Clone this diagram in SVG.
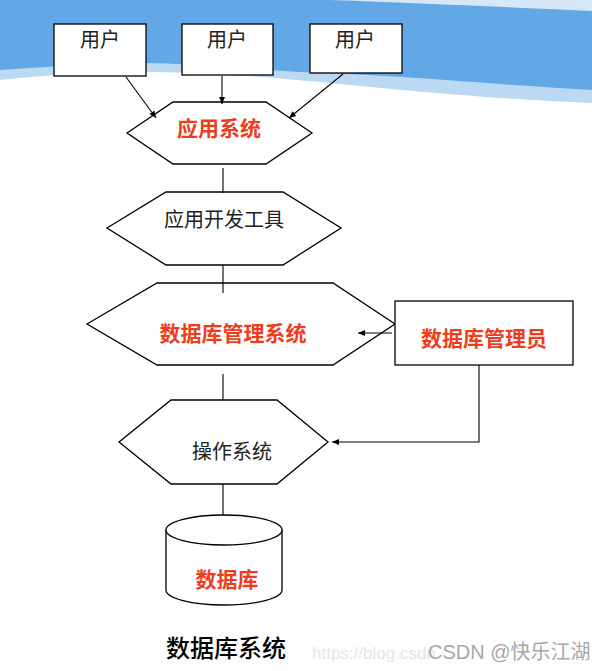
<svg xmlns="http://www.w3.org/2000/svg" width="592" height="671" viewBox="0 0 592 671">
<style>
.shape{fill:#fff;stroke:#000;stroke-width:1.3}
.line{fill:none;stroke:#000;stroke-width:1.1}
.t{font-family:"Noto Sans CJK SC","Noto Sans",sans-serif;text-anchor:middle;dominant-baseline:central}
.blk{fill:#222;font-size:20px}
.red{fill:#ee3d1d;font-weight:bold;font-size:21px}
</style>
<defs>
<marker id="ah" markerWidth="8" markerHeight="8" refX="7" refY="4" orient="auto" markerUnits="userSpaceOnUse">
<path d="M0,1 L7,4 L0,7 Z" fill="#000"/>
</marker>
</defs>
<rect width="592" height="671" fill="#fff"/>
<g id="background">
<path d="M0,0 H592 V103 C520,100 450,95 350,85 C300,80 230,73 150,72 C100,71 40,76 0,80 Z" fill="#bcd9f3"/>
<path d="M0,0 H592 V90 C500,85 400,75 300,72 C230,68 180,62 130,63 C80,64 30,68 0,70 Z" fill="#63a8e6"/>
<path d="M330,0 C420,3 500,7 592,11 V0 Z" fill="#d6e7f7"/>
</g>
<g id="user1">
<rect class="shape" x="54" y="24" width="92" height="52"/>
<text class="t blk" x="100" y="38">用户</text>
</g>
<g id="user2">
<rect class="shape" x="182" y="24" width="91" height="51"/>
<text class="t blk" x="227" y="38">用户</text>
</g>
<g id="user3">
<rect class="shape" x="310" y="24" width="92" height="49"/>
<text class="t blk" x="355" y="38">用户</text>
</g>
<g id="app-system">
<polygon class="shape" points="127,133 173,102 266,102 312,133 266,164 173,164"/>
<text class="t red" x="219" y="127">应用系统</text>
</g>
<g id="dev-tools">
<polygon class="shape" points="107,228 166,192 283,192 341,228 283,265 166,265"/>
<text class="t blk" x="224" y="218">应用开发工具</text>
</g>
<g id="dbms">
<polygon class="shape" points="87,324 157,283 333,283 395,324 333,365 157,365"/>
<text class="t red" x="233" y="332">数据库管理系统</text>
</g>
<g id="dba">
<rect class="shape" x="395" y="301" width="178" height="64"/>
<text class="t red" x="484" y="337">数据库管理员</text>
</g>
<g id="os">
<polygon class="shape" points="119,442 171,400 277,400 328,442 277,484 171,484"/>
<text class="t blk" x="232" y="450">操作系统</text>
</g>
<g id="database">
<path class="shape" d="M166,530 V590 A58,15 0 0 0 282,590 V530"/>
<ellipse class="shape" cx="224" cy="530" rx="58" ry="15"/>
<text class="t red" x="227" y="578">数据库</text>
</g>
<g id="connectors">
<line class="line" x1="126" y1="77" x2="156" y2="118" marker-end="url(#ah)"/>
<line class="line" x1="222" y1="76" x2="222" y2="104" marker-end="url(#ah)"/>
<line class="line" x1="343" y1="74" x2="289" y2="118" marker-end="url(#ah)"/>
<line class="line" x1="223" y1="168" x2="223" y2="193"/>
<line class="line" x1="223" y1="265" x2="223" y2="293"/>
<line class="line" x1="392" y1="333" x2="358" y2="333" marker-end="url(#ah)"/>
<line class="line" x1="223" y1="374" x2="223" y2="400"/>
<polyline class="line" points="479,365 479,442 332,442" marker-end="url(#ah)"/>
<line class="line" x1="223" y1="484" x2="223" y2="515"/>
</g>
<g id="caption">
<text class="t" x="226" y="646" style="font-size:24px;fill:#000;font-weight:500">数据库系统</text>
<text x="312" y="659" style="font-family:'Liberation Sans',sans-serif;font-size:17px;fill:#e6e6e6">https://blog.csdn</text>
<text x="428" y="659" style="font-family:'Liberation Sans','Noto Sans CJK SC',sans-serif;font-size:20px;fill:#a8a8a8">CSDN @快乐江湖</text>
</g>
</svg>
